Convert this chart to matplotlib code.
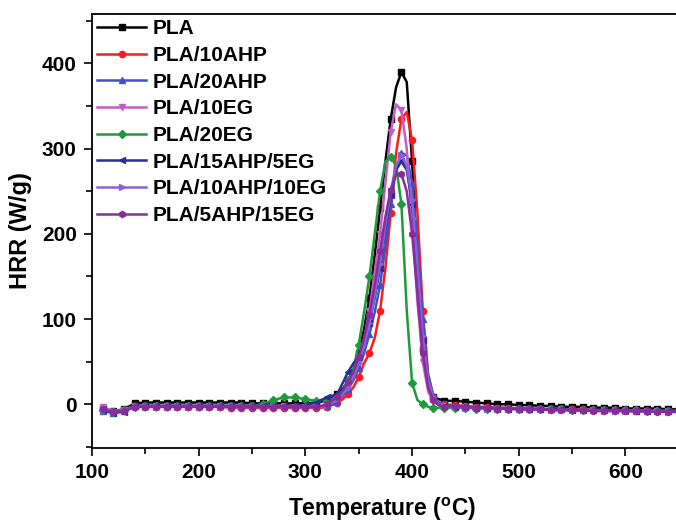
import matplotlib

matplotlib.use("Agg")
import matplotlib.pyplot as plt
import numpy as np

plt.rcParams["font.family"] = ["Liberation Sans", "DejaVu Sans"]
plt.rcParams["font.weight"] = "bold"
plt.rcParams["mathtext.fontset"] = "custom"
plt.rcParams["mathtext.rm"] = "Liberation Sans:bold"
plt.rcParams["mathtext.bf"] = "Liberation Sans:bold"

# temperature grid (deg C): 10 deg steps on the baselines, 5 deg through the peak
TEMP = ([110, 120, 130, 140, 150, 160, 170, 180, 190, 200, 210, 220, 230, 240,
         250, 260, 270, 280, 290, 300, 310]
        + [315, 320, 325, 330, 335, 340, 345, 350, 355, 360, 365, 370, 375, 380,
           385, 390, 395, 400, 405, 410, 415, 420, 425, 430]
        + [440, 450, 460, 470, 480, 490, 500, 510, 520, 530, 540, 550, 560, 570,
           580, 590, 600, 610, 620, 630, 640, 650])

PLA = ([-5, -8, -6, 1, 2, 2, 2, 2, 2, 2, 2, 2, 2, 2, 1, 1, 1, 1, 1, 1, 2]
       + [3, 5, 8, 12, 18, 27, 40, 60, 88, 125, 175, 230, 285, 335,
          372, 390, 378, 285, 165, 65, 22, 8, 6, 4]
       + [4, 3, 2, 1, 0, 0, -1, -1, -2, -2, -3, -3, -3, -4, -4, -4, -5, -5, -5, -5, -6, -6])
AHP10 = ([-6, -9, -7, -2, -3, -3, -3, -3, -3, -3, -3, -3, -4, -4, -4, -4, -4, -4, -4, -4, -4]
         + [-4, -3, -1, 2, 6, 12, 20, 32, 48, 60, 78, 110, 160, 225,
            295, 335, 343, 310, 225, 110, 35, 8, 2, 0]
         + [-1, -2, -3, -3, -4, -4, -5, -5, -5, -6, -6, -6, -6, -7, -7, -7, -7, -7, -8, -8, -8, -8])
AHP20 = ([-8, -10, -8, -2, -2, -2, -2, -2, -2, -2, -2, -2, -2, -2, -2, -2, -2, -2, -2, -2, -2]
         + [-3, -2, 0, 4, 10, 18, 28, 42, 60, 82, 108, 140, 185, 235,
            275, 295, 292, 260, 190, 100, 35, 10, 2, -1]
         + [-2, -3, -3, -4, -4, -5, -5, -5, -6, -6, -6, -6, -7, -7, -7, -7, -7, -8, -8, -8, -8, -8])
EG10 = ([-3, -9, -7, -2, -2, -2, -2, -2, -2, -2, -2, -2, -2, -2, -2, -2, -2, -2, -3, -3, -3]
        + [-2, 0, 3, 7, 12, 20, 32, 50, 75, 110, 155, 200, 260, 320,
           352, 345, 300, 215, 120, 50, 15, 3, -1, -2]
        + [-3, -3, -4, -4, -5, -5, -5, -6, -6, -6, -6, -7, -7, -7, -7, -7, -8, -8, -8, -8, -8, -8])
EG20 = ([-7, -9, -7, -3, -2, -2, -2, -2, -2, -2, -2, -2, -2, -2, -2, 0, 5, 8, 8, 6, 4]
        + [5, 4, 6, 10, 16, 28, 42, 70, 108, 150, 200, 250, 285, 290,
           280, 235, 110, 25, 5, 0, -3, -4, -4, -4]
        + [-4, -4, -5, -5, -5, -5, -6, -6, -6, -6, -6, -7, -7, -7, -7, -7, -7, -7, -8, -8, -8, -8])
AHP15_EG5 = ([-7, -10, -9, -2, -2, -2, -2, -2, -2, -2, -2, -2, -2, -2, -2, -2, -2, -2, -2, -1, 2]
             + [5, 8, 10, 12, 25, 38, 48, 55, 72, 95, 125, 160, 205, 245,
                275, 285, 275, 235, 160, 75, 25, 6, 0, -2]
             + [-3, -3, -4, -4, -5, -5, -5, -6, -6, -6, -6, -7, -7, -7, -7, -7, -8, -8, -8, -8, -8, -8])
AHP10_EG10 = ([-5, -8, -7, -3, -3, -3, -3, -3, -3, -3, -3, -3, -3, -3, -3, -3, -3, -3, -3, -3, -3]
              + [-3, -1, 2, 6, 12, 20, 32, 48, 68, 95, 128, 165, 210, 250,
                 280, 292, 280, 240, 165, 80, 28, 8, 0, -2]
              + [-3, -4, -4, -5, -5, -5, -6, -6, -6, -7, -7, -7, -7, -7, -8, -8, -8, -8, -8, -8, -9, -9])
AHP5_EG15 = ([-6, -9, -8, -3, -3, -3, -3, -3, -3, -3, -3, -3, -3, -3, -3, -3, -3, -3, -3, -3, -3]
             + [-2, 0, 4, 9, 16, 26, 38, 55, 78, 105, 140, 180, 220, 252,
                270, 270, 250, 200, 130, 60, 20, 5, -1, -3]
             + [-2, -3, -4, -4, -5, -5, -6, -6, -6, -7, -7, -7, -7, -8, -8, -8, -8, -8, -8, -9, -9, -9])

LABELS = ["PLA", "PLA/10AHP", "PLA/20AHP", "PLA/10EG", "PLA/20EG",
          "PLA/15AHP/5EG", "PLA/10AHP/10EG", "PLA/5AHP/15EG"]
SERIES = [PLA, AHP10, AHP20, EG10, EG20, AHP15_EG5, AHP10_EG10, AHP5_EG15]
COLORS = ["#000000", "#ff1a1a", "#3f51c4", "#c45cc4", "#1f9a3a",
          "#262f96", "#8a62d4", "#8b2a9b"]
MARKERS = ["s", "o", "^", "v", "D", "<", ">", "h"]

t = np.array(TEMP, float)
# markers only on the 10-degree points
mark = [i for i, v in enumerate(TEMP) if v % 10 == 0]

fig = plt.figure(figsize=(6.76, 5.23), dpi=100)
# the plot runs on past the right edge of the picture, as in the original
ax = fig.add_axes([92 / 676, 1 - 447.7 / 523, 597.5 / 676, 433.7 / 523])

for y, lab, c, m in zip(SERIES, LABELS, COLORS, MARKERS):
    ax.plot(t, y, color=c, lw=1.8, marker=m, ms=4.5, markevery=mark, label=lab)

ax.set_xlim(100, 660)
ax.set_ylim(-51, 458)
ax.set_xticks(np.arange(100, 601, 100))
ax.set_xticks(np.arange(150, 651, 100), minor=True)
ax.set_yticks(np.arange(0, 401, 100))
ax.set_yticks(np.arange(-50, 451, 100), minor=True)
ax.tick_params(which="major", direction="out", length=6, width=1.2, labelsize=15, pad=5)
ax.tick_params(which="minor", direction="out", length=4, width=1.2)
for s in ax.spines.values():
    s.set_linewidth(1.3)

ax.set_ylabel("HRR (W/g)", fontsize=17, fontweight="bold")
ax.set_xlabel(r"Temperature ($^{\mathrm{o}}$C)", fontsize=16.5, fontweight="bold")
ax.xaxis.set_label_coords(0.485, -0.112)
ax.yaxis.set_label_coords(-0.1, 0.5)

ax.legend(loc="upper left", frameon=False, prop={"weight": "bold", "size": 15},
          handlelength=2.35, handletextpad=0.3, labelspacing=0.37,
          borderaxespad=0.15, borderpad=0.1)

fig.savefig("out.png", dpi=100)
